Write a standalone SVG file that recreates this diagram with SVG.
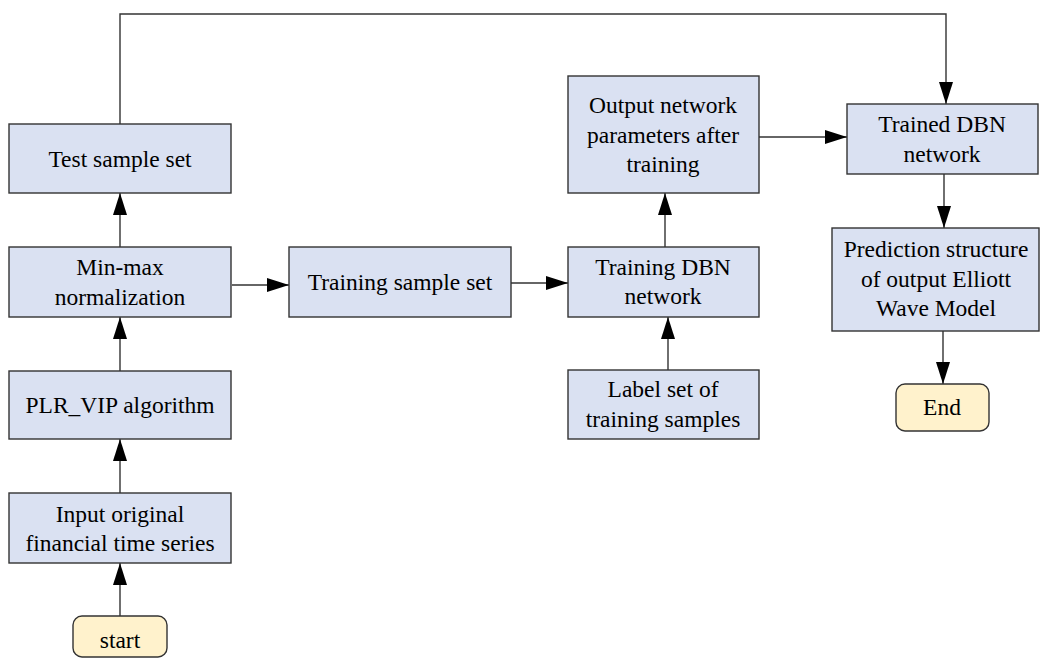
<svg xmlns="http://www.w3.org/2000/svg" width="1041" height="660" viewBox="0 0 1041 660">
<defs>
<marker id="ah" markerWidth="22" markerHeight="14" refX="22" refY="7" orient="auto" markerUnits="userSpaceOnUse">
<path d="M0,0 L22,7 L0,14 Z" fill="#000"/>
</marker>
<style>
.box{fill:#dae1f2;stroke:#333;stroke-width:1.4}
.term{fill:#fff2cc;stroke:#333;stroke-width:1.4}
text{font-size:23.5px;fill:#000;text-anchor:middle}
.c{fill:none;stroke:#333;stroke-width:1.4;marker-end:url(#ah)}
</style>
</defs>
<rect width="1041" height="660" fill="#fff"/>
<g id="connectors">
<path class="c" d="M120,616 V563"/>
<path class="c" d="M120,493 V439"/>
<path class="c" d="M120,371 V317"/>
<path class="c" d="M120,247 V193"/>
<path class="c" d="M120,124 V14 H946 V104"/>
<path class="c" d="M232,285 H289"/>
<path class="c" d="M511,283 H568"/>
<path class="c" d="M668,370 V317"/>
<path class="c" d="M665,247 V193"/>
<path class="c" d="M759,137 H847"/>
<path class="c" d="M944,174 V228"/>
<path class="c" d="M943,331 V384"/>
</g>
<g font-family="'Liberation Serif', 'Times New Roman', serif">
<g id="test"><rect class="box" x="9" y="124" width="222" height="69"/><text x="120" y="167">Test sample set</text></g>
<g id="minmax"><rect class="box" x="9" y="247" width="222" height="70"/><text x="120" y="275">Min-max</text><text x="120" y="305">normalization</text></g>
<g id="plr"><rect class="box" x="9" y="371" width="222" height="68"/><text x="120" y="413">PLR_VIP algorithm</text></g>
<g id="input"><rect class="box" x="9" y="493" width="222" height="70"/><text x="120" y="522">Input original</text><text x="120" y="551">financial time series</text></g>
<g id="start"><rect class="term" x="73" y="616" width="94" height="41" rx="9"/><text x="120" y="648">start</text></g>
<g id="trainset"><rect class="box" x="289" y="247" width="222" height="70"/><text x="400" y="290">Training sample set</text></g>
<g id="trainDBN"><rect class="box" x="568" y="247" width="191" height="70"/><text x="663" y="275">Training DBN</text><text x="663" y="304">network</text></g>
<g id="labelset"><rect class="box" x="568" y="370" width="191" height="69"/><text x="663" y="397">Label set of</text><text x="663" y="427">training samples</text></g>
<g id="output"><rect class="box" x="568" y="76" width="191" height="117"/><text x="663" y="113">Output network</text><text x="663" y="143">parameters after</text><text x="663" y="172">training</text></g>
<g id="trained"><rect class="box" x="847" y="104" width="191" height="70"/><text x="942" y="132">Trained DBN</text><text x="942" y="162">network</text></g>
<g id="predict"><rect class="box" x="832" y="228" width="207" height="103"/><text x="936" y="257">Prediction structure</text><text x="936" y="287">of output Elliott</text><text x="936" y="316">Wave Model</text></g>
<g id="end"><rect class="term" x="896" y="384" width="93" height="47" rx="9"/><text x="942" y="415">End</text></g>
</g>
</svg>
